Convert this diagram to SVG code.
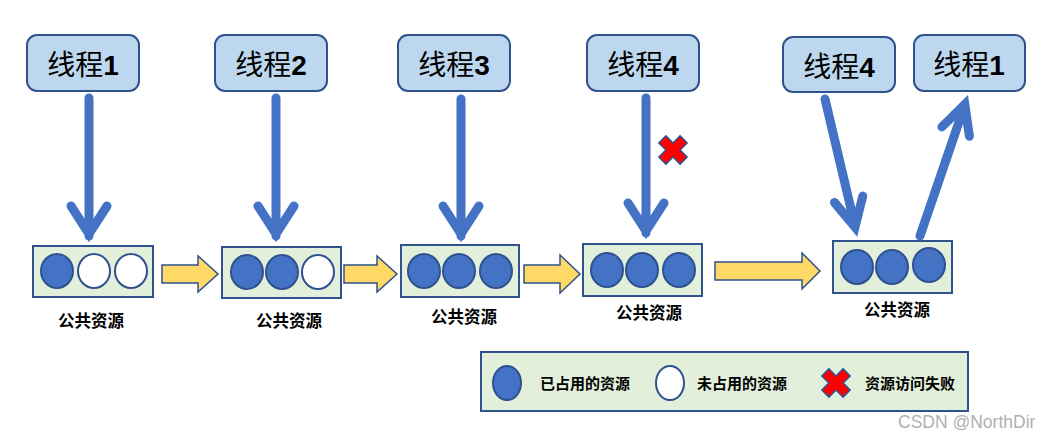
<svg xmlns="http://www.w3.org/2000/svg" width="1058" height="439" viewBox="0 0 1058 439">
<style>
.thread{fill:#BDD7EE;stroke:#2F528F;stroke-width:2}
.tt{font-family:"Noto Sans CJK SC","Liberation Sans",sans-serif;font-size:28px;fill:#000;text-anchor:middle}
.num{font-family:"Liberation Sans","Noto Sans CJK SC",sans-serif;font-weight:bold}
.res{fill:#E2EFDA;stroke:#2F528F;stroke-width:2}
.used{fill:#4472C4;stroke:#2F528F;stroke-width:2}
.free{fill:#FFFFFF;stroke:#2F528F;stroke-width:2}
.lbl{font-family:"Noto Sans CJK SC","Liberation Sans",sans-serif;font-size:16.5px;font-weight:bold;fill:#000;text-anchor:middle}
.leg{font-family:"Noto Sans CJK SC","Liberation Sans",sans-serif;font-size:15px;font-weight:bold;fill:#000}
.ar{fill:none;stroke:#4472C4;stroke-width:9;stroke-linecap:round;stroke-linejoin:miter}
.ya{fill:#FFD966;stroke:#2F528F;stroke-width:1.5}
.wm{font-family:"Liberation Sans",sans-serif;font-size:17.5px;fill:#B0B0B0}
</style>
<defs>
<polygon id="xmark" points="-5,-15 5,-15 5,-5 15,-5 15,5 5,5 5,15 -5,15 -5,5 -15,5 -15,-5 -5,-5" transform="rotate(45)" fill="#FF0000" stroke="#2F528F" stroke-width="1.5"/>
</defs>

<g id="t1"><rect class="thread" x="27" y="35" width="112" height="56" rx="10"/><text class="tt" x="83" y="75">线程<tspan class="num">1</tspan></text></g>
<g id="t2"><rect class="thread" x="215" y="35" width="112" height="56" rx="10"/><text class="tt" x="271" y="75">线程<tspan class="num">2</tspan></text></g>
<g id="t3"><rect class="thread" x="398" y="35" width="112" height="56" rx="10"/><text class="tt" x="454" y="75">线程<tspan class="num">3</tspan></text></g>
<g id="t4"><rect class="thread" x="587" y="35" width="112" height="56" rx="10"/><text class="tt" x="643" y="75">线程<tspan class="num">4</tspan></text></g>
<g id="t4b"><rect class="thread" x="783" y="37" width="112" height="55" rx="10"/><text class="tt" x="839" y="77">线程<tspan class="num">4</tspan></text></g>
<g id="t1b"><rect class="thread" x="914" y="35" width="111" height="56" rx="10"/><text class="tt" x="969" y="75">线程<tspan class="num">1</tspan></text></g>

<g id="r1"><rect class="res" x="33" y="246" width="120" height="51"/>
<ellipse class="used" cx="57" cy="271" rx="16" ry="17"/><ellipse class="free" cx="94" cy="271" rx="16" ry="17"/><ellipse class="free" cx="131" cy="271" rx="16" ry="17"/>
<text class="lbl" x="91" y="327">公共资源</text></g>
<g id="r2"><rect class="res" x="222" y="247" width="119" height="51"/>
<ellipse class="used" cx="247" cy="272" rx="16" ry="17"/><ellipse class="used" cx="282" cy="272" rx="16" ry="17"/><ellipse class="free" cx="318" cy="272" rx="16" ry="17"/>
<text class="lbl" x="289" y="327">公共资源</text></g>
<g id="r3"><rect class="res" x="401" y="245" width="118" height="52"/>
<ellipse class="used" cx="424" cy="271" rx="16" ry="17"/><ellipse class="used" cx="459" cy="271" rx="16" ry="17"/><ellipse class="used" cx="496" cy="271" rx="16" ry="17"/>
<text class="lbl" x="464" y="323">公共资源</text></g>
<g id="r4"><rect class="res" x="583" y="244" width="119" height="52"/>
<ellipse class="used" cx="607" cy="270" rx="16" ry="17"/><ellipse class="used" cx="642" cy="270" rx="16" ry="17"/><ellipse class="used" cx="679" cy="270" rx="16" ry="17"/>
<text class="lbl" x="649" y="319">公共资源</text></g>
<g id="r5"><rect class="res" x="833" y="241" width="119" height="52"/>
<ellipse class="used" cx="857" cy="267" rx="16" ry="17"/><ellipse class="used" cx="892" cy="267" rx="16" ry="17"/><ellipse class="used" cx="929" cy="265" rx="16" ry="17"/>
<text class="lbl" x="897" y="316">公共资源</text></g>

<g id="connectors">
<path class="ar" d="M89,98 L89,236 M71,206 L89,234 L107,206"/>
<path class="ar" d="M276,98 L276,236 M258,206 L276,234 L294,206"/>
<path class="ar" d="M461,99 L461,236 M443,206 L461,234 L479,206"/>
<path class="ar" d="M646,98 L646,233 M628,203 L646,231 L664,203"/>
<path class="ar" d="M825,99 L855,226 M834.5,202.5 L855,227 L862.8,196"/>
<path class="ar" d="M920,236 L964.8,105 M969.4,136.2 L964.8,104.5 L941.9,126.9"/>
<polygon class="ya" points="162,265 198,265 198,256 218,274 198,292 198,283 162,283"/>
<polygon class="ya" points="344,265 377,265 377,256 397,274 377,292 377,283 344,283"/>
<polygon class="ya" points="524,265 560,265 560,255 580,274 560,293 560,283 524,283"/>
<polygon class="ya" points="715,262 802,262 802,253 820,271 802,289 802,280 715,280"/>
</g>

<use href="#xmark" x="673" y="150"/>

<g id="legend">
<rect class="res" x="481" y="352" width="487" height="59" stroke-width="2.5"/>
<ellipse class="used" cx="507" cy="383" rx="14" ry="17"/>
<text class="leg" x="540" y="389">已占用的资源</text>
<ellipse class="free" cx="670" cy="383" rx="14" ry="17"/>
<text class="leg" x="697" y="389">未占用的资源</text>
<use href="#xmark" x="836" y="383"/>
<text class="leg" x="865" y="389">资源访问失败</text>
</g>

<text class="wm" x="898" y="428">CSDN @NorthDir</text>
</svg>
